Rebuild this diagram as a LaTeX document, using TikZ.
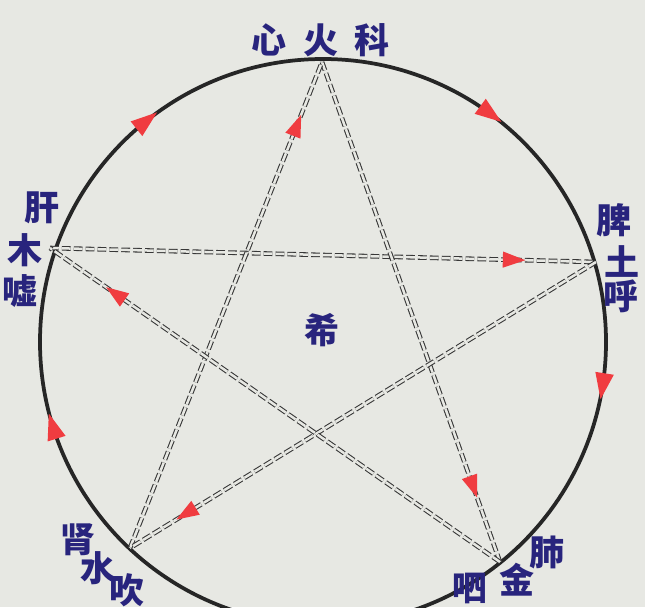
\documentclass[tikz,border=0pt]{standalone}
\usepackage{fontspec}
\newfontfamily\cjkfont{Noto Sans CJK SC}
\usetikzlibrary{decorations.markings}
\definecolor{paper}{RGB}{231,232,227}
\definecolor{ink}{RGB}{40,36,125}
\definecolor{tipred}{RGB}{240,60,64}
\definecolor{pencil}{RGB}{55,55,55}
\tikzset{
  zi/.style={font=\cjkfont\bfseries\fontsize{28}{28}\selectfont, text=ink, inner sep=0pt},
  kline/.style={draw=pencil, line width=0.85pt, dash pattern=on 7pt off 2.5pt,
    double=paper, double distance=2pt,
    postaction={decorate, decoration={markings, mark=at position #1 with
      {\fill[tipred] (9pt,0) -- (-9pt,6.5pt) -- (-9pt,-6.5pt) -- cycle;}}}},
  rim/.style={draw=black!85, line width=3pt,
    postaction={decorate, decoration={markings,
      mark=at position 0.025 with {\fill[tipred] (10.5pt,0) -- (-10.5pt,7.5pt) -- (-10.5pt,-7.5pt) -- cycle;},
      mark=at position 0.452 with {\fill[tipred] (10.5pt,0) -- (-10.5pt,7.5pt) -- (-10.5pt,-7.5pt) -- cycle;},
      mark=at position 0.643 with {\fill[tipred] (10.5pt,0) -- (-10.5pt,7.5pt) -- (-10.5pt,-7.5pt) -- cycle;},
      mark=at position 0.851 with {\fill[tipred] (10.5pt,0) -- (-10.5pt,7.5pt) -- (-10.5pt,-7.5pt) -- cycle;}}}},
}
\begin{document}
\begin{tikzpicture}[y=0.80pt, x=0.80pt, yscale=-1.000000, xscale=1.000000]
\useasboundingbox (0,0) rectangle (645,607);
\fill[paper] (0,0) rectangle (645,607);
% five points of the star
\coordinate (o) at (323,342);
\coordinate (huo) at (322,62);
\coordinate (tu) at (596,262);
\coordinate (jin) at (500,562);
\coordinate (shui) at (130,548);
\coordinate (mu) at (50,248);
% outer circle
\path[rim] (o) circle[radius=283];
% star
\draw[kline=0.85] (mu) -- (tu);
\draw[kline=0.85] (huo) -- (jin);
\draw[kline=0.87] (shui) -- (huo);
\draw[kline=0.88] (tu) -- (shui);
\draw[kline=0.855] (jin) -- (mu);
% labels
\node[zi] (xin) at (269,40) {心};
\node[zi] (huozi) at (321,40) {火};
\node[zi] (ke) at (372,40) {科};
\node[zi] (pi) at (614,220) {脾};
\node[zi] (tuzi) at (622,261) {土};
\node[zi] (hu) at (621,296) {呼};
\node[zi] (gan) at (42,208) {肝};
\node[zi] (muzi) at (25,250) {木};
\node[zi] (xu) at (20,291) {嘘};
\node[zi] (shen) at (78,540) {肾};
\node[zi] (shuizi) at (98,568) {水};
\node[zi] (chui) at (127,590) {吹};
\node[zi] (fei) at (547,552) {肺};
\node[zi] (jinzi) at (517,580) {金};
\node[zi] (si) at (470,588) {呬};
\node[zi] (xi) at (322,330) {希};
\end{tikzpicture}
\end{document}
